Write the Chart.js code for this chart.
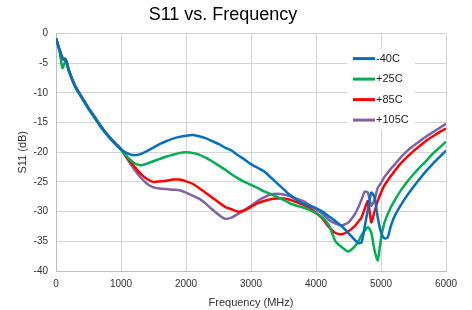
<!DOCTYPE html>
<html>
<head>
<meta charset="utf-8">
<script src="https://cdn.jsdelivr.net/npm/chart.js@4/dist/chart.umd.min.js"></script>
<style>
  html, body { margin: 0; padding: 0; background: #fff; }
  #wrap { width: 472px; height: 310px; }
</style>
</head>
<body>
<div id="wrap"><canvas id="c" width="472" height="310"></canvas></div>
<script>
// frequency points (MHz)
var freq = [0, 50, 100, 150, 200, 300, 400, 500, 600, 700, 800, 900, 1000,
  1100, 1200, 1300, 1400, 1500, 1600, 1700, 1800, 1900, 2000,
  2100, 2200, 2300, 2400, 2500, 2600, 2700, 2800, 2900, 3000,
  3100, 3200, 3300, 3400, 3500, 3600, 3700, 3800, 3900, 4000,
  4100, 4200, 4300, 4400, 4500, 4600, 4650, 4700, 4750, 4800,
  4850, 4900, 4950, 5000, 5050, 5100, 5150, 5200,
  5300, 5400, 5500, 5600, 5700, 5800, 5900, 6000];

var seriesNames = ['-40C', '+25C', '+85C', '+105C'];

// S11 (dB)
var s11Minus40 = [-0.8, -2.6, -4.2, -4.5, -6.3, -9.0, -10.8, -12.6, -14.2, -15.8, -17.2, -18.4, -19.5,
  -20.2, -20.5, -20.3, -19.8, -19.2, -18.6, -18.1, -17.7, -17.4, -17.2,
  -17.1, -17.3, -17.6, -18.1, -18.6, -19.2, -19.7, -20.5, -21.2, -22.0,
  -22.6, -23.2, -24.2, -25.2, -26.2, -27.2, -28.0, -28.6, -29.0, -29.4,
  -30.0, -30.8, -31.6, -32.5, -33.6, -34.8, -35.3, -35.2, -32.5, -29.5,
  -26.8, -27.5, -31.0, -33.5, -34.5, -34.4, -32.5, -31.0,
  -29.0, -27.3, -25.8, -24.4, -23.1, -21.9, -20.8, -19.7];

var s11Plus25 = [-0.8, -2.7, -5.8, -4.6, -6.4, -9.1, -10.9, -12.7, -14.3, -15.9, -17.3, -18.5, -19.6,
  -20.8, -21.8, -22.2, -21.9, -21.5, -21.1, -20.7, -20.4, -20.1, -20.0,
  -20.1, -20.4, -20.9, -21.5, -22.2, -22.9, -23.7, -24.4, -25.0, -25.5,
  -26.0, -26.6, -27.0, -27.5, -28.0, -28.6, -29.0, -29.3, -29.7, -30.3,
  -31.0, -32.3, -35.0, -36.0, -36.7, -35.8, -35.0, -34.0, -33.2, -32.6,
  -33.5, -36.5, -38.2, -34.5, -32.0, -30.5, -29.3, -28.3,
  -26.5, -25.0, -23.7, -22.5, -21.4, -20.2, -19.2, -18.2];

var s11Plus85 = [-0.8, -2.6, -4.3, -4.5, -6.3, -9.0, -10.8, -12.6, -14.2, -15.8, -17.2, -18.4, -19.5,
  -21.0, -22.3, -23.6, -24.5, -25.0, -24.9, -24.8, -24.6, -24.6, -24.9,
  -25.3, -26.0, -26.8, -27.6, -28.4, -29.2, -29.6, -30.0, -29.8, -29.2,
  -28.6, -28.2, -27.9, -27.8, -27.8, -28.0, -28.4, -28.8, -29.4, -30.2,
  -31.2, -32.6, -33.6, -33.8, -33.3, -32.4, -31.7, -31.0, -29.5, -28.2,
  -31.8, -30.0, -28.2, -26.8, -25.6, -24.8, -24.0, -23.3,
  -21.9, -20.8, -19.8, -18.9, -18.0, -17.3, -16.6, -16.0];

var s11Plus105 = [-0.8, -2.5, -4.0, -4.3, -6.2, -8.9, -10.7, -12.5, -14.1, -15.7, -17.1, -18.3, -19.4,
  -21.2, -22.8, -24.2, -25.3, -25.9, -26.1, -26.2, -26.3, -26.4, -26.8,
  -27.3, -27.8, -28.6, -29.6, -30.5, -31.2, -31.0, -30.4, -29.7, -29.0,
  -28.2, -27.6, -27.1, -27.0, -27.1, -27.4, -27.8, -28.2, -28.9, -29.6,
  -30.4, -31.4, -32.0, -32.3, -31.8, -30.4, -29.3, -28.0, -26.6, -26.8,
  -29.0, -28.0, -26.0, -25.2, -24.2, -23.5, -22.8, -22.2,
  -20.9, -19.8, -18.9, -18.1, -17.3, -16.6, -15.9, -15.2];

var yTicks = [-40, -35, -30, -25, -20, -15, -10, -5, 0];
var xTicks = [0, 1000, 2000, 3000, 4000, 5000, 6000];

var colors = ['#0070C0', '#00B050', '#FF0000', '#8064A2'];
var allValues = [s11Minus40, s11Plus25, s11Plus85, s11Plus105];

function toPoints(vals) {
  return freq.map(function (f, i) { return { x: f, y: vals[i] }; });
}

var datasets = allValues.map(function (vals, i) {
  return {
    label: seriesNames[i],
    data: toPoints(vals),
    borderColor: colors[i],
    backgroundColor: colors[i],
    borderWidth: 2.5,
    pointRadius: 0,
    tension: 0.2
  };
});

var FONT = "'Liberation Sans', Arial, sans-serif";

// legend drawn inside the plot area, like the original
var insideLegend = {
  id: 'insideLegend',
  afterDraw: function (chart) {
    var ctx = chart.ctx;
    var a = chart.chartArea;
    var x0 = a.right - 99, y0 = a.top + 16;
    ctx.save();
    ctx.fillStyle = '#fff';
    ctx.fillRect(x0, y0, 68, 80);
    ctx.font = '11px ' + FONT;
    ctx.textBaseline = 'middle';
    chart.data.datasets.forEach(function (ds, i) {
      var y = y0 + 9 + i * 20.5;
      ctx.strokeStyle = ds.borderColor;
      ctx.lineWidth = 3;
      ctx.beginPath();
      ctx.moveTo(x0 + 6, y);
      ctx.lineTo(x0 + 28, y);
      ctx.stroke();
      ctx.fillStyle = '#262626';
      ctx.fillText(ds.label, x0 + 29, y);
    });
    ctx.restore();
  }
};

function plain(v) { return String(v); }

new Chart(document.getElementById('c').getContext('2d'), {
  type: 'line',
  data: { datasets: datasets },
  plugins: [insideLegend],
  options: {
    responsive: false,
    animation: false,
    layout: { padding: { left: 0, right: 26, top: 0, bottom: 0 } },
    plugins: {
      legend: { display: false },
      tooltip: { enabled: false },
      title: {
        display: true,
        text: 'S11 vs. Frequency',
        color: '#000',
        font: { family: FONT, size: 18, weight: 'normal' },
        padding: { top: 4, bottom: 8 }
      }
    },
    scales: {
      x: {
        type: 'linear',
        min: 0, max: 6000,
        afterBuildTicks: function (s) { s.ticks = xTicks.map(function (v) { return { value: v }; }); },
        afterFit: function (s) { s.height = 39; },
        grid: { color: '#d4d4d4', drawTicks: false },
        border: { color: '#bfbfbf' },
        ticks: { color: '#333', padding: 7, font: { family: FONT, size: 10 }, maxRotation: 0, callback: plain },
        title: {
          display: true, text: 'Frequency (MHz)', color: '#333',
          font: { family: FONT, size: 11 }, padding: { top: 1, bottom: 0 }
        }
      },
      y: {
        min: -40, max: 0,
        afterBuildTicks: function (s) { s.ticks = yTicks.map(function (v) { return { value: v }; }); },
        afterFit: function (s) { s.width = 56; },
        grid: { color: '#d4d4d4', drawTicks: false },
        border: { color: '#bfbfbf' },
        ticks: { color: '#333', padding: 8, font: { family: FONT, size: 10 }, callback: plain },
        title: {
          display: true, text: 'S11 (dB)', color: '#333',
          font: { family: FONT, size: 11 }, padding: { top: 16, bottom: 0 }
        }
      }
    }
  }
});
</script>
</body>
</html>
